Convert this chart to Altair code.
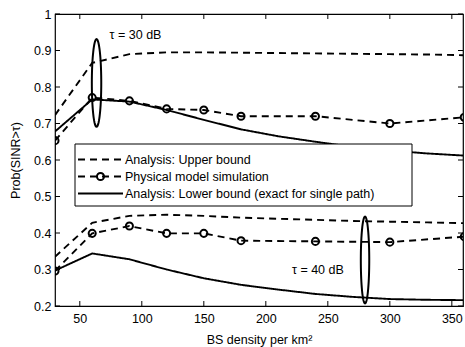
import altair as alt
import pandas as pd
import numpy as np

# ---------------- data ----------------
x_analysis = [30, 60, 90, 120, 150, 180, 210, 240, 270, 300, 330, 360]
upper_30 = [0.723, 0.866, 0.890, 0.895, 0.895, 0.894, 0.893, 0.892, 0.891, 0.890, 0.889, 0.887]
lower_30 = [0.678, 0.766, 0.760, 0.737, 0.710, 0.684, 0.665, 0.650, 0.636, 0.626, 0.618, 0.612]
upper_40 = [0.335, 0.428, 0.447, 0.450, 0.447, 0.442, 0.439, 0.436, 0.433, 0.431, 0.429, 0.427]
lower_40 = [0.297, 0.344, 0.328, 0.300, 0.276, 0.258, 0.245, 0.233, 0.225, 0.219, 0.217, 0.216]

x_sim = [30, 60, 90, 120, 150, 180, 240, 300, 360]
sim_30 = [0.653, 0.771, 0.762, 0.740, 0.737, 0.720, 0.720, 0.700, 0.717]
sim_40 = [0.296, 0.399, 0.419, 0.399, 0.399, 0.379, 0.377, 0.375, 0.390]

x_ticks = [50, 100, 150, 200, 250, 300, 350]
y_ticks = [0.2, 0.3, 0.4, 0.5, 0.6, 0.7, 0.8, 0.9, 1.0]

# ellipse annotations: (center x, center y, radius x, radius y)
ellipses = [(63.5, 0.811, 3.8, 0.120), (280.0, 0.326, 3.4, 0.119)]

annotations = ["τ = 30 dB", "τ = 40 dB"]
annot_x = [74, 242]
annot_y = [0.942, 0.300]

legend_labels = ["Analysis: Upper bound", "Physical model simulation",
                 "Analysis: Lower bound (exact for single path)"]

# ---------------- layout ----------------
W, H = 408, 292
XDOM = [30, 359]
YDOM = [0.2, 1.0]
FONT = "Liberation Sans"
DASH = [7, 5]
FS = 12.5

xs = alt.Scale(domain=XDOM, nice=False, zero=False)
ys = alt.Scale(domain=YDOM, nice=False, zero=False)

rows = []
for s, tau, vals in [("upper", "30", upper_30), ("lower", "30", lower_30),
                     ("upper", "40", upper_40), ("lower", "40", lower_40)]:
    for xv, yv in zip(x_analysis, vals):
        rows.append({"x": xv, "y": yv, "series": s, "tau": tau})
ana = pd.DataFrame(rows)

srows = []
for tau, vals in [("30", sim_30), ("40", sim_40)]:
    for xv, yv in zip(x_sim, vals):
        srows.append({"x": xv, "y": yv, "tau": tau})
sim = pd.DataFrame(srows)

erows = []
t = np.linspace(0, 2 * np.pi, 73)
for i, (cx, cy, rx, ry) in enumerate(ellipses):
    for k, tt in enumerate(t):
        erows.append({"x": cx + rx * np.cos(tt), "y": cy + ry * np.sin(tt), "e": i, "k": k})
ell = pd.DataFrame(erows)

ann = pd.DataFrame({"x": annot_x, "y": annot_y, "text": annotations})

xaxis = alt.Axis(values=x_ticks, tickSize=0, domain=False, grid=False,
                 labelPadding=6, title="BS density per km²", labelOverlap=False,
                 titlePadding=9, labelFontSize=FS, titleFontSize=FS,
                 labelFont=FONT, titleFont=FONT, titleFontWeight="normal",
                 labelColor="black", titleColor="black")
yaxis = alt.Axis(values=y_ticks, tickSize=0, domain=False, grid=False,
                 labelPadding=4, title="Prob(SINR>τ)", titlePadding=11,
                 labelOverlap=False, labelFlush=False,
                 labelFontSize=FS, titleFontSize=FS,
                 labelFont=FONT, titleFont=FONT, titleFontWeight="normal",
                 labelExpr="datum.value > 0.99 ? '1' : format(datum.value, '.1f')",
                 labelColor="black", titleColor="black")


def X(f="x:Q"):
    return alt.X(f, scale=xs, axis=xaxis)


def Y(f="y:Q"):
    return alt.Y(f, scale=ys, axis=yaxis)


base_ana = alt.Chart(ana).mark_line(color="black", strokeWidth=1.9, clip=True).encode(
    x=X(), y=Y(),
    strokeDash=alt.StrokeDash("series:N", scale=alt.Scale(domain=["upper", "lower"], range=[DASH, [1, 0]]), legend=None),
    detail="tau:N",
)

sim_line = alt.Chart(sim).mark_line(color="black", strokeWidth=1.9, strokeDash=DASH, clip=True).encode(
    x=X(), y=Y(), detail="tau:N")
sim_pts = alt.Chart(sim).mark_point(shape="circle", size=50, color="black", filled=False,
                                     strokeWidth=2, clip=True, opacity=1).encode(x=X(), y=Y())

ell_line = alt.Chart(ell).mark_line(color="black", strokeWidth=2, clip=True).encode(
    x=X(), y=Y(), detail="e:N", order="k:Q")

ann_text1 = alt.Chart(ann.iloc[[0]]).mark_text(font=FONT, fontSize=FS, color="black",
                                               baseline="middle", align="left").encode(
    x=X(), y=Y(), text="text:N")
ann_text2 = alt.Chart(ann.iloc[[1]]).mark_text(font=FONT, fontSize=FS, color="black",
                                               baseline="middle", align="center").encode(
    x=X(), y=Y(), text="text:N")

# inward ticks on all four sides
xt = pd.DataFrame({"x": x_ticks})
yt = pd.DataFrame({"y": y_ticks})
tick_b = alt.Chart(xt).mark_rule(color="black", strokeWidth=1).encode(
    x=X(), y=alt.value(H), y2=alt.value(H - 5))
tick_t = alt.Chart(xt).mark_rule(color="black", strokeWidth=1).encode(
    x=X(), y=alt.value(0), y2=alt.value(5))
tick_l = alt.Chart(yt).mark_rule(color="black", strokeWidth=1).encode(
    y=Y(), x=alt.value(0), x2=alt.value(5))
tick_r = alt.Chart(yt).mark_rule(color="black", strokeWidth=1).encode(
    y=Y(), x=alt.value(W), x2=alt.value(W - 5))

# legend box
one = pd.DataFrame({"a": [0]})
leg_box = alt.Chart(one).mark_rect(fill="white", stroke="black", strokeWidth=1).encode(
    x=alt.value(20), x2=alt.value(357), y=alt.value(130), y2=alt.value(192))
leg_layers = [leg_box]
row_y = [145.5, 162.5, 179.5]
row_dash = [DASH, DASH, [1, 0]]
for i, lab in enumerate(legend_labels):
    leg_layers.append(alt.Chart(one).mark_rule(color="black", strokeWidth=1.9, strokeDash=row_dash[i]).encode(
        x=alt.value(23), x2=alt.value(68), y=alt.value(row_y[i])))
    leg_layers.append(alt.Chart(pd.DataFrame({"t": [lab]})).mark_text(
        font=FONT, fontSize=FS, color="black", align="left", baseline="middle").encode(
        x=alt.value(70), y=alt.value(row_y[i]), text="t:N"))
leg_layers.append(alt.Chart(one).mark_point(shape="circle", size=50, filled=False,
                                            stroke="black", strokeWidth=2, opacity=1).encode(
    x=alt.value(45.5), y=alt.value(row_y[1])))

chart = alt.layer(
    base_ana, sim_line, sim_pts, ell_line, ann_text1, ann_text2,
    tick_b, tick_t, tick_l, tick_r, *leg_layers
).properties(
    width=W, height=H,
    autosize=alt.AutoSizeParams(type="none"),
    padding={"left": 55, "top": 14, "right": 2, "bottom": 41},
    background="white",
).configure_view(stroke="black", strokeWidth=1.2).configure_axis(labelOverlap=False)

chart.save("out.html", embed_options={"renderer": "svg", "actions": False})
